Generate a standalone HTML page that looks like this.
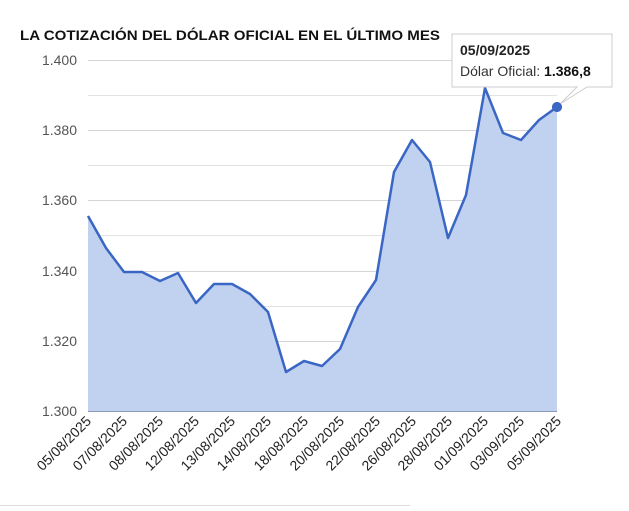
<!DOCTYPE html>
<html><head><meta charset="utf-8"><style>
body{margin:0;background:#fff;width:629px;height:506px;overflow:hidden}
</style></head><body>
<svg width="629" height="506" xmlns="http://www.w3.org/2000/svg" font-family="Liberation Sans, Arial, sans-serif">
<rect width="629" height="506" fill="#fff"/>
<text x="20" y="40" font-size="14" font-weight="bold" fill="#111" textLength="420" lengthAdjust="spacingAndGlyphs">LA COTIZACIÓN DEL DÓLAR OFICIAL EN EL ÚLTIMO MES</text>
<g stroke="#e2e2e2" stroke-width="1">
<line x1="88" x2="557" y1="60.5" y2="60.5" stroke="#d4d4d4"/>
<line x1="88" x2="557" y1="95.5" y2="95.5"/>
<line x1="88" x2="557" y1="130.5" y2="130.5" stroke="#d4d4d4"/>
<line x1="88" x2="557" y1="165.5" y2="165.5"/>
<line x1="88" x2="557" y1="200.5" y2="200.5" stroke="#d4d4d4"/>
<line x1="88" x2="557" y1="235.5" y2="235.5"/>
<line x1="88" x2="557" y1="271.5" y2="271.5" stroke="#d4d4d4"/>
<line x1="88" x2="557" y1="306.5" y2="306.5"/>
<line x1="88" x2="557" y1="341.5" y2="341.5" stroke="#d4d4d4"/>
<line x1="88" x2="557" y1="376.5" y2="376.5"/>
</g>
<g font-size="14" fill="#555" text-anchor="end">
<text x="77" y="65">1.400</text><text x="77" y="135">1.380</text><text x="77" y="205">1.360</text>
<text x="77" y="276">1.340</text><text x="77" y="346">1.320</text><text x="77" y="416">1.300</text>
</g>
<polygon fill="#c1d1f0" points="88,411 88,216 106,248 124,272 142,272 160,281 178,273 196,303 214,284 232,284 250,294 268,312 286,372 304,361 322,366 340,349 358,307 376,280 394,172 412,140 430,162 448,238 466,195 485,88 503,133 521,140 539,120 557,107 557,411"/>
<line x1="88" x2="557" y1="411.5" y2="411.5" stroke="#8a9ab8"/>
<polyline fill="none" stroke="#3a66c4" stroke-width="2.5" stroke-linejoin="round" points="88,216 106,248 124,272 142,272 160,281 178,273 196,303 214,284 232,284 250,294 268,312 286,372 304,361 322,366 340,349 358,307 376,280 394,172 412,140 430,162 448,238 466,195 485,88 503,133 521,140 539,120 557,107"/>
<circle cx="557" cy="107" r="5" fill="#3a66c4"/>
<g font-size="14" fill="#222" text-anchor="end">
<text transform="translate(92,422) rotate(-45)">05/08/2025</text>
<text transform="translate(128,422) rotate(-45)">07/08/2025</text>
<text transform="translate(164,422) rotate(-45)">08/08/2025</text>
<text transform="translate(200,422) rotate(-45)">12/08/2025</text>
<text transform="translate(236,422) rotate(-45)">13/08/2025</text>
<text transform="translate(272,422) rotate(-45)">14/08/2025</text>
<text transform="translate(309,422) rotate(-45)">18/08/2025</text>
<text transform="translate(345,422) rotate(-45)">20/08/2025</text>
<text transform="translate(381,422) rotate(-45)">22/08/2025</text>
<text transform="translate(417,422) rotate(-45)">26/08/2025</text>
<text transform="translate(453,422) rotate(-45)">28/08/2025</text>
<text transform="translate(489,422) rotate(-45)">01/09/2025</text>
<text transform="translate(525,422) rotate(-45)">03/09/2025</text>
<text transform="translate(562,422) rotate(-45)">05/09/2025</text>
</g>
<polygon points="452,34 612,34 612,87 587,87 560,104 577,87 452,87" fill="#fff" stroke="#ccc"/>
<text x="460" y="55" font-size="14" font-weight="bold" fill="#222">05/09/2025</text>
<text x="460" y="76" font-size="14" fill="#333">Dólar Oficial: <tspan font-weight="bold" fill="#111">1.386,8</tspan></text>
<circle cx="557" cy="107" r="5" fill="#3a66c4"/>
<line x1="0" x2="410" y1="505.5" y2="505.5" stroke="#ddd"/>
</svg>
</body></html>
